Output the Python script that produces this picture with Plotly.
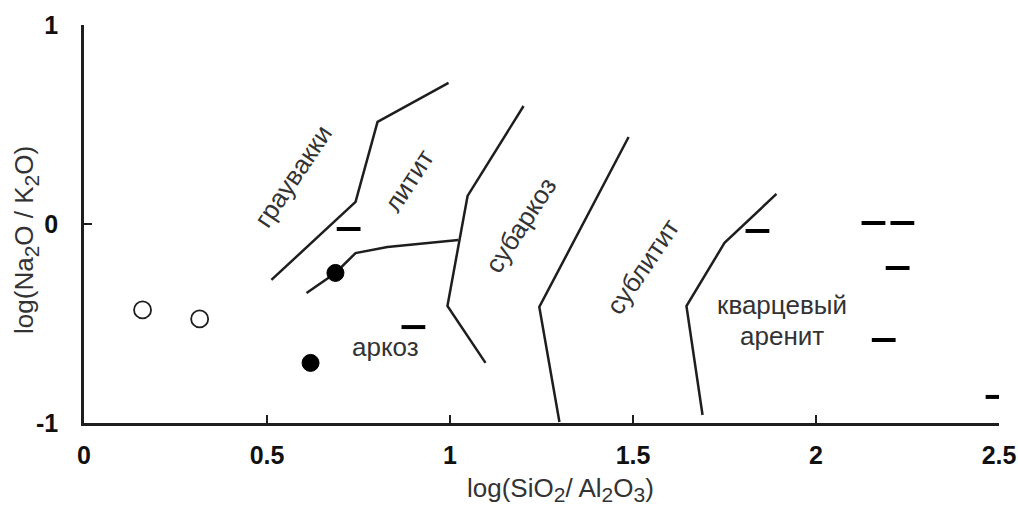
import plotly.graph_objects as go

# Field boundary lines (log(SiO2/Al2O3), log(Na2O/K2O))
b1_x = [0.512, 0.742, 0.802, 0.996]
b1_y = [-0.281, 0.111, 0.513, 0.709]
b2_x = [0.608, 0.687, 0.742, 0.829, 1.023]
b2_y = [-0.347, -0.246, -0.146, -0.116, -0.080]
b3_x = [1.201, 1.048, 0.993, 1.097]
b3_y = [0.593, 0.141, -0.412, -0.698]
b4_x = [1.488, 1.244, 1.299]
b4_y = [0.437, -0.417, -0.995]
b5_x = [1.892, 1.750, 1.646, 1.690]
b5_y = [0.151, -0.095, -0.412, -0.960]
boundaries = [(b1_x, b1_y), (b2_x, b2_y), (b3_x, b3_y), (b4_x, b4_y), (b5_x, b5_y)]

# Samples
open_x = [0.160, 0.316]
open_y = [-0.432, -0.477]
filled_x = [0.687, 0.619]
filled_y = [-0.246, -0.698]
dash_x = [0.723, 0.900, 1.840, 2.157, 2.236, 2.223, 2.185, 2.496]
dash_y = [-0.025, -0.518, -0.035, 0.005, 0.005, -0.221, -0.583, -0.869]

# Field labels
label_text = ["граувакки", "литит", "субаркоз", "сублитит", "аркоз", "кварцевый", "аренит"]
label_x = [0.572, 0.887, 1.193, 1.526, 0.824, 1.908, 1.908]
label_y = [0.240, 0.216, -0.005, -0.216, -0.618, -0.407, -0.563]
label_angle = [-56, -57, -57, -56, 0, 0, 0]

x_ticks = [0, 0.5, 1, 1.5, 2, 2.5]
x_ticktext = ["0", "0.5", "1", "1.5", "2", "2.5"]
y_ticks = [-1, 0, 1]
y_ticktext = ["-1", "0", "1"]
SUB = '<sub><span style="font-size:21px">{}</span></sub>'
x_title = "log(SiO" + SUB.format("2") + "/ Al" + SUB.format("2") + "O" + SUB.format("3") + ")"
y_title = "log(Na" + SUB.format("2") + "O / K" + SUB.format("2") + "O)"

FONT = "Arial, Liberation Sans, sans-serif"
fig = go.Figure()
for bx, by in boundaries:
    fig.add_trace(go.Scatter(x=bx, y=by, mode="lines",
                             line=dict(color="#1e1e1e", width=2.5), hoverinfo="skip"))
fig.add_trace(go.Scatter(x=open_x, y=open_y, mode="markers",
                         marker=dict(symbol="circle", size=17, color="white",
                                     line=dict(color="#1e1e1e", width=1.8))))
fig.add_trace(go.Scatter(x=filled_x, y=filled_y, mode="markers",
                         marker=dict(symbol="circle", size=17, color="#000000",
                                     line=dict(color="#000000", width=1))))
fig.add_trace(go.Scatter(x=dash_x, y=dash_y, mode="markers",
                         marker=dict(symbol="line-ew", size=17,
                                     line=dict(color="#000000", width=4))))

for t, x, y, a in zip(label_text, label_x, label_y, label_angle):
    fig.add_annotation(x=x, y=y, text=t, textangle=a, showarrow=False,
                       xanchor="center", yanchor="middle",
                       font=dict(family=FONT, size=26, color="#333333"))

# Axis titles
fig.add_annotation(xref="paper", yref="paper", x=0.521, y=-0.168, text=x_title,
                   xanchor="center", yanchor="middle",
                   showarrow=False, font=dict(family=FONT, size=26, color="#333333"))
fig.add_annotation(xref="paper", yref="paper", x=-0.0634, y=0.46, text=y_title,
                   textangle=-90, xanchor="center", yanchor="middle", showarrow=False,
                   font=dict(family=FONT, size=26, color="#333333"))

fig.update_layout(
    width=1018, height=508,
    margin=dict(l=84, r=19, t=25, b=85),
    plot_bgcolor="white", paper_bgcolor="white",
    showlegend=False,
    font=dict(family=FONT, color="#222222"),
)
fig.update_xaxes(range=[0, 2.5], tickvals=x_ticks, ticktext=x_ticktext,
                 showline=True, linecolor="#1e1e1e", linewidth=2.5,
                 ticks="inside", ticklen=8, tickwidth=2, tickcolor="#1e1e1e",
                 showgrid=False, zeroline=False, ticklabelstandoff=8, automargin=False,
                 tickfont=dict(family=FONT, size=25, color="#111111", weight="bold"))
fig.update_yaxes(range=[-1, 1], tickvals=y_ticks, ticktext=y_ticktext,
                 showline=True, linecolor="#1e1e1e", linewidth=2.5,
                 ticks="inside", ticklen=8, tickwidth=2, tickcolor="#1e1e1e",
                 showgrid=False, zeroline=False, ticklabelstandoff=18, automargin=False,
                 tickfont=dict(family=FONT, size=25, color="#111111", weight="bold"))

fig.write_html("out.html", config={"displayModeBar": False},
               post_script="document.body.style.margin='0';document.body.style.overflow='hidden';")
